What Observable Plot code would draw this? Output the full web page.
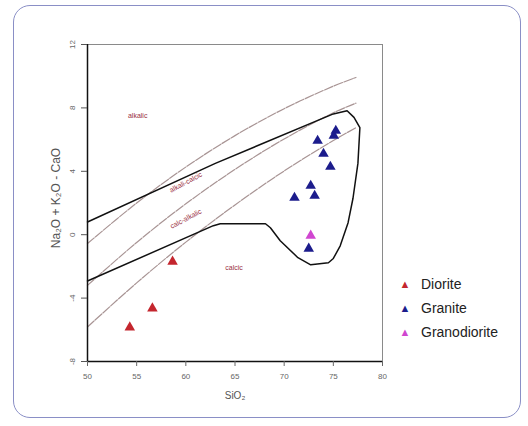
<!DOCTYPE html>
<html>
<head>
<meta charset="utf-8">
<script src="https://cdn.jsdelivr.net/npm/d3@7"></script>
<script src="https://cdn.jsdelivr.net/npm/@observablehq/plot@0.6"></script>
<style>
  html, body { margin: 0; padding: 0; background: #fff; }
  #wrap { position: relative; width: 528px; height: 426px; overflow: hidden; font-family: "Liberation Sans", Arial, sans-serif; }
  #border { position: absolute; left: 13px; top: 5px; width: 508px; height: 413px; border: 1.5px solid #8a8fc6; border-radius: 17px; box-sizing: border-box; }
  #chart { position: absolute; left: 0; top: 0; }
  #legend { position: absolute; left: 395px; top: 272px; font-size: 14px; color: #222; }
  .li { display: flex; align-items: center; height: 24px; }
  .sym { width: 20px; margin-right: 6px; font-size: 11px; text-align: center; }
</style>
</head>
<body>
<div id="wrap">
  <div id="border"></div>
  <div id="chart"></div>
  <div id="legend"></div>
</div>
<script>
// ---- data ----
const rockTypes = ["Diorite", "Granite", "Granodiorite"];
const rockColors = ["#c4262e", "#1c1c8c", "#d046d0"];

const dioriteSiO2 = [54.3, 56.6, 58.65];
const dioriteMALI = [-5.85, -4.65, -1.7];

const graniteSiO2 = [73.4, 75.25, 75.05, 74.0, 74.7, 72.7, 73.1, 71.05, 72.5];
const graniteMALI = [5.93, 6.56, 6.25, 5.11, 4.29, 3.09, 2.46, 2.33, -0.88];

const granodioriteSiO2 = [72.7];
const granodioriteMALI = [-0.06];

// MALI boundary curves
const curveSiO2 = [50, 55, 60, 65, 70, 75, 77.3];
const alkalicBoundary = [-0.56, 2.0, 4.27, 6.25, 7.95, 9.37, 9.92];
const alkaliCalcicBoundary = [-3.2, -0.49, 1.95, 4.12, 6.04, 7.69, 8.3];
const calcAlkalicBoundary = [-5.82, -3.04, -0.47, 1.88, 4.02, 5.94, 6.75];

// black field outline
const fieldSiO2 = [50, 63, 75, 76.4, 77.1, 77.7, 77.5, 77.0, 76.5, 75.7, 75.0, 74.5, 72.7, 71.4, 69.6, 68.6, 68.1, 63.5, 62.8, 50];
const fieldMALI = [0.8, 4.5, 7.62, 7.82, 7.4, 6.75, 4.5, 2.3, 0.76, -0.7, -1.5, -1.77, -1.9, -1.45, -0.38, 0.44, 0.69, 0.69, 0.57, -2.92];

// field names
const fieldNames = ["alkalic", "alkali-calcic", "calc-alkalic", "calcic"];
const fieldNameSiO2 = [55.1, 60.0, 60.0, 64.9];
const fieldNameMALI = [7.5, 3.3, 1.0, -2.1];
const fieldNameAngle = [0, -28, -28, 0];

const xTicks = [50, 55, 60, 65, 70, 75, 80];
const yTicks = [-8, -4, 0, 4, 8, 12];
const xLabel = "SiO₂";
const yLabel = "Na₂O + K₂O - CaO";

// ---- build tables ----
const samples = [
  ...dioriteSiO2.map((x, i) => ({x, y: dioriteMALI[i], type: "Diorite"})),
  ...graniteSiO2.map((x, i) => ({x, y: graniteMALI[i], type: "Granite"})),
  ...granodioriteSiO2.map((x, i) => ({x, y: granodioriteMALI[i], type: "Granodiorite"}))
];
const curves = [
  ...curveSiO2.map((x, i) => ({x, y: alkalicBoundary[i], c: "a"})),
  ...curveSiO2.map((x, i) => ({x, y: alkaliCalcicBoundary[i], c: "b"})),
  ...curveSiO2.map((x, i) => ({x, y: calcAlkalicBoundary[i], c: "c"}))
];
const field = fieldSiO2.map((x, i) => ({x, y: fieldMALI[i]}));
const names = fieldNames.map((t, i) => ({t, x: fieldNameSiO2[i], y: fieldNameMALI[i], r: fieldNameAngle[i]}));

const chart = Plot.plot({
  width: 528,
  height: 426,
  marginLeft: 87,
  marginRight: 146,
  marginTop: 44,
  marginBottom: 65,
  style: {fontFamily: "'Liberation Sans', Arial, sans-serif", background: "transparent", overflow: "visible"},
  x: {domain: [50, 80]},
  y: {domain: [-8, 12]},
  color: {domain: rockTypes, range: rockColors},
  marks: [
    Plot.frame({stroke: "#8a8a8a", strokeWidth: 1}),
    Plot.line(curves, {x: "x", y: "y", z: "c", curve: "catmull-rom", stroke: "#a89494", strokeWidth: 1.2, strokeDasharray: "9,1.5"}),
    Plot.line(field, {x: "x", y: "y", stroke: "#111", strokeWidth: 1.5, curve: "linear"}),
    Plot.text(names, {x: "x", y: "y", text: "t", rotate: "r", fill: "#9a2f42", fontSize: 7}),
    Plot.dot(samples, {x: "x", y: "y", fill: "type", symbol: "triangle", r: 3.9}),
    Plot.ruleX([50], {stroke: "#111", strokeWidth: 1.5}),
    Plot.ruleY([-8], {stroke: "#111", strokeWidth: 1.5}),
    Plot.axisX({ticks: xTicks, tickSize: 5, tickPadding: 7, fontSize: 8, color: "#666", label: null, tickFormat: d => String(d)}),
    Plot.axisY({ticks: yTicks, tickSize: 6, tickFormat: () => "", label: null, color: "#555"}),
    Plot.text(yTicks, {x: 50, y: d => d, text: d => String(d), rotate: -90, dx: -15, fontSize: 8, fill: "#666"}),
    Plot.text([xLabel], {frameAnchor: "bottom", textAnchor: "middle", dy: 37, fontSize: 10, fill: "#555"}),
    Plot.text([yLabel], {frameAnchor: "left", textAnchor: "middle", lineAnchor: "middle", dx: -31, dy: -5, rotate: -90, fontSize: 12, fill: "#555"})
  ]
});
document.getElementById("chart").appendChild(chart);

const legend = document.getElementById("legend");
rockTypes.forEach((t, i) => {
  const row = document.createElement("div");
  row.className = "li";
  const s = document.createElement("span");
  s.className = "sym";
  s.style.color = rockColors[i];
  s.textContent = "▲";
  const l = document.createElement("span");
  l.textContent = t;
  row.appendChild(s);
  row.appendChild(l);
  legend.appendChild(row);
});
</script>
</body>
</html>
